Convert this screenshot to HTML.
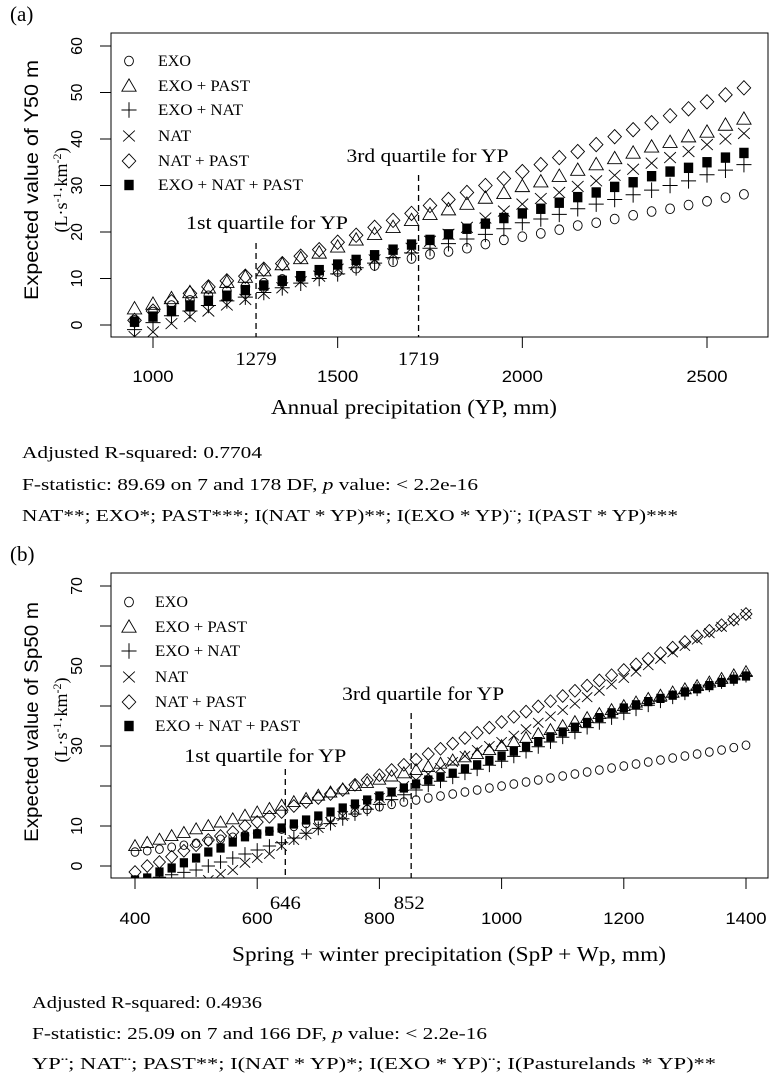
<!DOCTYPE html>
<html><head><meta charset="utf-8"><style>
html,body{margin:0;padding:0;background:#fff;}
svg{display:block;}
.serif{font-family:"Liberation Serif",serif;fill:#000;}
.sans{font-family:"Liberation Sans",sans-serif;fill:#000;}
</style></head><body>
<svg id="fig" width="782" height="1087" viewBox="0 0 782 1087" xmlns="http://www.w3.org/2000/svg">
<g id="panelA"></g>
<g id="panelB"></g>
<g class="serif" font-size="17">
<text x="22" y="458" textLength="240" lengthAdjust="spacingAndGlyphs">Adjusted R-squared:  0.7704</text>
<text x="22" y="490" textLength="456" lengthAdjust="spacingAndGlyphs">F-statistic: 89.69 on 7 and 178 DF,  <tspan font-style="italic">p</tspan> value: &lt; 2.2e-16</text>
<text x="22" y="521" textLength="656" lengthAdjust="spacingAndGlyphs">NAT**; EXO*; PAST***; I(NAT * YP)**; I(EXO * YP)¨; I(PAST * YP)***</text>
</g>
<g class="serif" font-size="17">
<text x="32" y="1008" textLength="230" lengthAdjust="spacingAndGlyphs">Adjusted R-squared:  0.4936</text>
<text x="32" y="1039" textLength="455" lengthAdjust="spacingAndGlyphs">F-statistic: 25.09 on 7 and 166 DF,  <tspan font-style="italic">p</tspan> value: &lt; 2.2e-16</text>
<text x="32" y="1069" textLength="684" lengthAdjust="spacingAndGlyphs">YP¨; NAT¨; PAST**; I(NAT * YP)*; I(EXO * YP)¨; I(Pasturelands * YP)**</text>
</g>
</svg>
<script>
// Panel (a) data
const xA = [950,1000,1050,1100,1150,1200,1250,1300,1350,1400,1450,1500,1550,1600,1650,1700,1750,1800,1850,1900,1950,2000,2050,2100,2150,2200,2250,2300,2350,2400,2450,2500,2550,2600];
const aEXO = [1.0,2.8,4.2,5.3,6.3,7.3,8.2,9.0,9.8,10.2,11.0,11.5,12.2,12.8,13.6,14.3,15.2,15.8,16.5,17.4,18.3,19.0,19.7,20.5,21.4,22.0,22.8,23.6,24.4,25.0,25.8,26.6,27.4,28.1];
const aEXOPAST = [3.5,4.5,5.7,7.0,8.0,9.2,10.3,11.7,13.0,14.3,15.5,16.8,18.3,19.5,21.0,22.5,23.8,24.8,26.0,27.3,28.3,29.8,30.8,32.0,33.3,34.5,35.8,37.0,38.3,39.3,40.5,41.5,43.0,44.3];
const aEXONAT = [-1.0,0.5,2.0,3.0,4.2,5.2,6.0,7.0,8.0,9.0,10.0,11.0,12.3,13.3,14.5,15.5,16.5,17.5,18.5,19.5,20.7,22.0,22.8,23.8,25.0,26.0,27.0,28.0,29.0,30.0,31.0,32.3,33.3,34.5];
const aNAT = [-2.5,-1.5,0.3,1.8,3.0,4.3,5.5,6.8,8.0,9.3,10.5,12.0,13.0,14.0,15.3,16.5,18.0,19.5,21.0,23.0,24.5,26.0,27.2,28.5,29.8,31.0,32.2,33.5,34.8,36.0,37.3,38.8,40.0,41.2];
const aNATPAST = [1.0,3.0,5.0,6.8,8.2,9.5,10.5,12.0,13.2,14.8,16.2,17.8,19.3,21.0,22.5,24.0,25.7,27.0,28.5,30.0,31.5,33.0,34.5,36.0,37.3,38.8,40.5,42.0,43.5,45.0,46.5,48.0,49.5,51.0];
const aALL = [0.7,1.8,3.0,4.2,5.2,6.3,7.5,8.5,9.5,10.5,11.8,13.0,14.0,15.0,16.2,17.3,18.3,19.5,20.7,21.8,23.0,24.0,25.0,26.3,27.5,28.5,29.7,30.7,32.0,33.0,33.8,35.0,36.0,37.0];
const aXTicks = [1000,1500,2000,2500];
const aYTicks = [0,10,20,30,40,50,60];
const aQuartiles = [1279,1719];

// Panel (b) data
const xB = [400,420,440,460,480,500,520,540,560,580,600,620,640,660,680,700,720,740,760,780,800,820,840,860,880,900,920,940,960,980,1000,1020,1040,1060,1080,1100,1120,1140,1160,1180,1200,1220,1240,1260,1280,1300,1320,1340,1360,1380,1400];
const bEXO = [3.5,3.8,4.2,4.7,5.2,5.7,6.2,6.7,7.2,7.7,8.2,8.7,9.2,9.9,10.6,11.3,12.0,12.7,13.4,14.1,14.8,15.4,16.0,16.5,17.0,17.5,18.0,18.5,19.0,19.5,20.0,20.5,21.0,21.5,22.0,22.5,23.0,23.5,24.0,24.5,25.0,25.5,26.0,26.5,27.0,27.5,28.0,28.5,29.0,29.6,30.2];
const bEXOPAST = [5.0,5.8,6.6,7.5,8.3,9.2,10.0,10.9,11.7,12.6,13.4,14.3,15.1,16.0,16.8,17.6,18.4,19.2,20.0,20.8,21.6,22.4,23.2,24.0,24.8,25.6,26.4,27.2,28.0,29.0,30.0,31.0,32.0,33.0,34.0,35.0,36.0,37.0,38.0,39.0,40.0,40.9,41.8,42.6,43.4,44.2,45.0,45.9,46.8,47.7,48.5];
const bEXONAT = [-4.0,-3.4,-2.8,-2.2,-1.6,-1.0,0.0,1.0,2.0,3.0,4.0,5.0,5.8,7.0,8.2,9.4,10.6,11.8,13.0,14.2,15.4,16.6,17.8,19.0,20.2,21.2,22.2,23.2,24.2,25.2,26.2,27.4,28.6,29.8,31.0,32.2,33.4,34.6,35.8,37.0,38.2,39.2,40.2,41.2,42.2,43.2,44.2,45.2,46.0,46.8,47.6];
const bNAT = [-12,-11,-9.5,-8,-6.5,-5,-3.5,-2,-1,0.8,2,3,5,6.5,8,9.5,11,12.5,14,15.5,17,18.5,20,21.5,23,24.5,26,27.5,29,30,31,32.6,34.2,35.8,37.4,39,40.6,42.2,43.8,45.4,47,48.6,50.2,51.8,53.4,55,56.6,58.2,59.8,61.4,63];
const bNATPAST = [-1.5,0,1,2.3,3.8,5.2,6.5,7.5,8.5,10,11,12.3,13.5,15,16,17,18,19,20.3,21.5,22.7,24,25.3,26.6,28,29.3,30.6,32,33.3,34.6,36,37.3,38.6,39.9,41.2,42.5,43.8,45.1,46.4,47.7,49,50.4,51.8,53.2,54.6,56,57.4,58.8,60.2,61.6,63];
const bALL = [-3.5,-3,-1.5,-0.5,0.8,2,3.5,4.5,6,7.3,8,8.7,9.5,10.5,11.5,12.5,13.5,14.5,15.5,16.5,17.5,18.5,19.5,20.5,21.5,22.3,23.2,24.3,25.3,26.4,27.5,28.7,29.9,31.1,32.3,33.5,34.7,35.9,37.1,38.3,39.5,40.3,41.1,41.9,42.7,43.5,44.3,45.1,45.9,46.7,47.5];
const bXTicks = [400,600,800,1000,1200,1400];
const bYTicks = [0,10,20,30,40,50,60,70];
const bYLabels = [0,10,30,50,70];
const bQuartiles = [646,852];

const legendNames = ['EXO','EXO + PAST','EXO + NAT','NAT','NAT + PAST','EXO + NAT + PAST'];
const legendLens = [33,92,85,33,91,145];
const NS = 'http://www.w3.org/2000/svg';
function mk(parent, tag, attrs, text){
  const e = document.createElementNS(NS, tag);
  for (const k in attrs) e.setAttribute(k, attrs[k]);
  if (text !== undefined) e.textContent = text;
  parent.appendChild(e);
  return e;
}
function fit(e, len){ e.setAttribute('textLength', len); e.setAttribute('lengthAdjust','spacingAndGlyphs'); return e; }
function marker(g, type, cx, cy, s){
  let e;
  if (type===0){ e = mk(g,'ellipse',{cx:cx,cy:cy,rx:s*0.34,ry:s*0.37,fill:'none',stroke:'#000','stroke-width':0.9}); }
  else if (type===1){ e = mk(g,'path',{d:`M${cx} ${cy-s*0.55}L${cx+s*0.55} ${cy+s*0.4}L${cx-s*0.55} ${cy+s*0.4}Z`,fill:'none',stroke:'#000','stroke-width':0.9}); }
  else if (type===2){ e = mk(g,'path',{d:`M${cx-s*0.58} ${cy}H${cx+s*0.58}M${cx} ${cy-s*0.6}V${cy+s*0.6}`,fill:'none',stroke:'#000','stroke-width':1}); }
  else if (type===3){ e = mk(g,'path',{d:`M${cx-s*0.45} ${cy-s*0.42}L${cx+s*0.45} ${cy+s*0.42}M${cx+s*0.45} ${cy-s*0.42}L${cx-s*0.45} ${cy+s*0.42}`,fill:'none',stroke:'#000','stroke-width':0.9}); }
  else if (type===4){ e = mk(g,'path',{d:`M${cx} ${cy-s*0.55}L${cx+s*0.52} ${cy}L${cx} ${cy+s*0.55}L${cx-s*0.52} ${cy}Z`,fill:'none',stroke:'#000','stroke-width':0.9}); }
  else { e = mk(g,'rect',{x:cx-s*0.36,y:cy-s*0.4,width:s*0.72,height:s*0.8,fill:'#000'}); }
  return e;
}

function drawPanel(root, cfg){
  const sx = v => cfg.x0px + (v - cfg.x0) * cfg.kx;
  const sy = v => cfg.y0px - v * cfg.ky;
  const L = 111, R = 768, T = cfg.top, B = cfg.bottom;
  const lab = mk(root,'text',{x:10,y:cfg.top-12,class:'serif','font-size':21},cfg.tag);
  
  
  const box = mk(root,'rect',{x:L,y:T,width:R-L,height:B-T,fill:'none',stroke:'#000','stroke-width':1});
  
  
  const clipId = 'clip'+cfg.tag.replace(/\W/g,'');
  const cp = mk(root,'clipPath',{id:clipId});
  mk(cp,'rect',{x:L,y:T,width:R-L,height:B-T});
  const yax = mk(root,'g',{});
  
  
  cfg.yTicks.forEach(v=>{
    mk(yax,'line',{x1:L-11,x2:L,y1:sy(v),y2:sy(v),stroke:'#000','stroke-width':1});
  });
  cfg.yLabels.forEach(v=>{
    const t = mk(yax,'text',{x:0,y:0,class:'sans','font-size':16,'text-anchor':'middle',transform:`translate(82 ${sy(v)}) rotate(-90)`},String(v));
    
    
  });
  const yt = mk(root,'text',{class:'sans','font-size':19,'text-anchor':'middle',fill:'#222',transform:`translate(38 ${cfg.ymid}) rotate(-90)`},cfg.ytitle);
  fit(yt, 240);
  
  
  const yu = mk(root,'text',{class:'serif','font-size':18,'text-anchor':'middle',transform:`translate(67 ${cfg.umid}) rotate(-90)`});
  yu.innerHTML = '(L·s<tspan dy="-6" font-size="12">-1</tspan><tspan dy="6">·km</tspan><tspan dy="-6" font-size="12">-2</tspan><tspan dy="6">)</tspan>';
  
  
  const xax = mk(root,'g',{});
  
  
  cfg.xTicks.forEach(v=>{
    mk(xax,'line',{x1:sx(v),x2:sx(v),y1:B,y2:B+11,stroke:'#000','stroke-width':1});
    const s = String(v);
    const t = mk(xax,'text',{x:sx(v),y:cfg.xLabY,class:'sans','font-size':17,'text-anchor':'middle'},s);
    fit(t, s.length*10.3);
    
    
  });
  const xt = mk(root,'text',{x:cfg.xtitleX,y:cfg.xtitleY,class:'serif','font-size':21,'text-anchor':'middle'},cfg.xtitle);
  fit(xt, cfg.xtitleLen);
  
  
  cfg.quartiles.forEach((q,i)=>{
    const ln = mk(root,'line',{x1:sx(q),x2:sx(q),y1:cfg.qTop[i],y2:B,stroke:'#000','stroke-width':1.3,'stroke-dasharray':'6,4'});
    
    
    const s = String(q);
    const ql = mk(root,'text',{x:sx(q)+cfg.qValDx[i],y:cfg.qValY,class:'serif','font-size':19,'text-anchor':'middle'},s);
    fit(ql, s.length*10.3);
    
    
    const qt = mk(root,'text',{x:sx(q)+cfg.qLabDx[i],y:cfg.qLabY[i],class:'serif','font-size':19,'text-anchor':'middle'}, i===0?'1st quartile for YP':'3rd quartile for YP');
    fit(qt, 162);
    
    
  });
  const pts = mk(root,'g',{'clip-path':`url(#${clipId})`});
  
  
  cfg.series.forEach((arr,si)=>{
    const sg = mk(pts,'g',{});
    
    
    arr.forEach((v,i)=>{
      const m = marker(sg, si, sx(cfg.xs[i]), sy(v), cfg.ms);
      
      
    });
  });
  const lg = mk(root,'g',{});
  
  
  legendNames.forEach((n,i)=>{
    const y = cfg.legY[i];
    const eg = mk(lg,'g',{});
    
    
    marker(eg, i, 129, y, 13);
    const t = mk(eg,'text',{x:cfg.legTx,y:y+5,class:'serif','font-size':16},n);
    fit(t, legendLens[i]);
  });
}

drawPanel(document.getElementById('panelA'),{
  tag:'(a)', top:33, bottom:337, x0:1000, x0px:153, kx:(707-153)/1500, y0px:325, ky:(325-46)/60,
  xs:xA, series:[aEXO,aEXOPAST,aEXONAT,aNAT,aNATPAST,aALL], ms:13,
  xTicks:aXTicks, yTicks:aYTicks, yLabels:aYTicks, xLabY:382,
  xtitle:'Annual precipitation (YP, mm)', xtitleX:414, xtitleY:414, xtitleLen:286,
  ytitle:'Expected value of Y50 m', ymid:180, umid:190,
  quartiles:aQuartiles, qTop:[243,175], qValY:365, qValDx:[0,0], qLabY:[229,162], qLabDx:[11,9],
  legY:[61,86,110,136,161,185], legTx:158
});
drawPanel(document.getElementById('panelB'),{
  tag:'(b)', top:573, bottom:878, x0:400, x0px:135, kx:(746-135)/1000, y0px:866, ky:(866-586)/70,
  xs:xB, series:[bEXO,bEXOPAST,bEXONAT,bNAT,bNATPAST,bALL], ms:11.5,
  xTicks:bXTicks, yTicks:bYTicks, yLabels:bYLabels, xLabY:924,
  xtitle:'Spring +  winter precipitation (SpP + Wp, mm)', xtitleX:449, xtitleY:961, xtitleLen:434,
  ytitle:'Expected value of Sp50 m', ymid:722, umid:720,
  quartiles:bQuartiles, qTop:[769,713], qValY:909, qValDx:[0,-2], qLabY:[762,700], qLabDx:[-20,12],
  legY:[602,627,651,677,702,726], legTx:155
});
</script>
</body></html>
